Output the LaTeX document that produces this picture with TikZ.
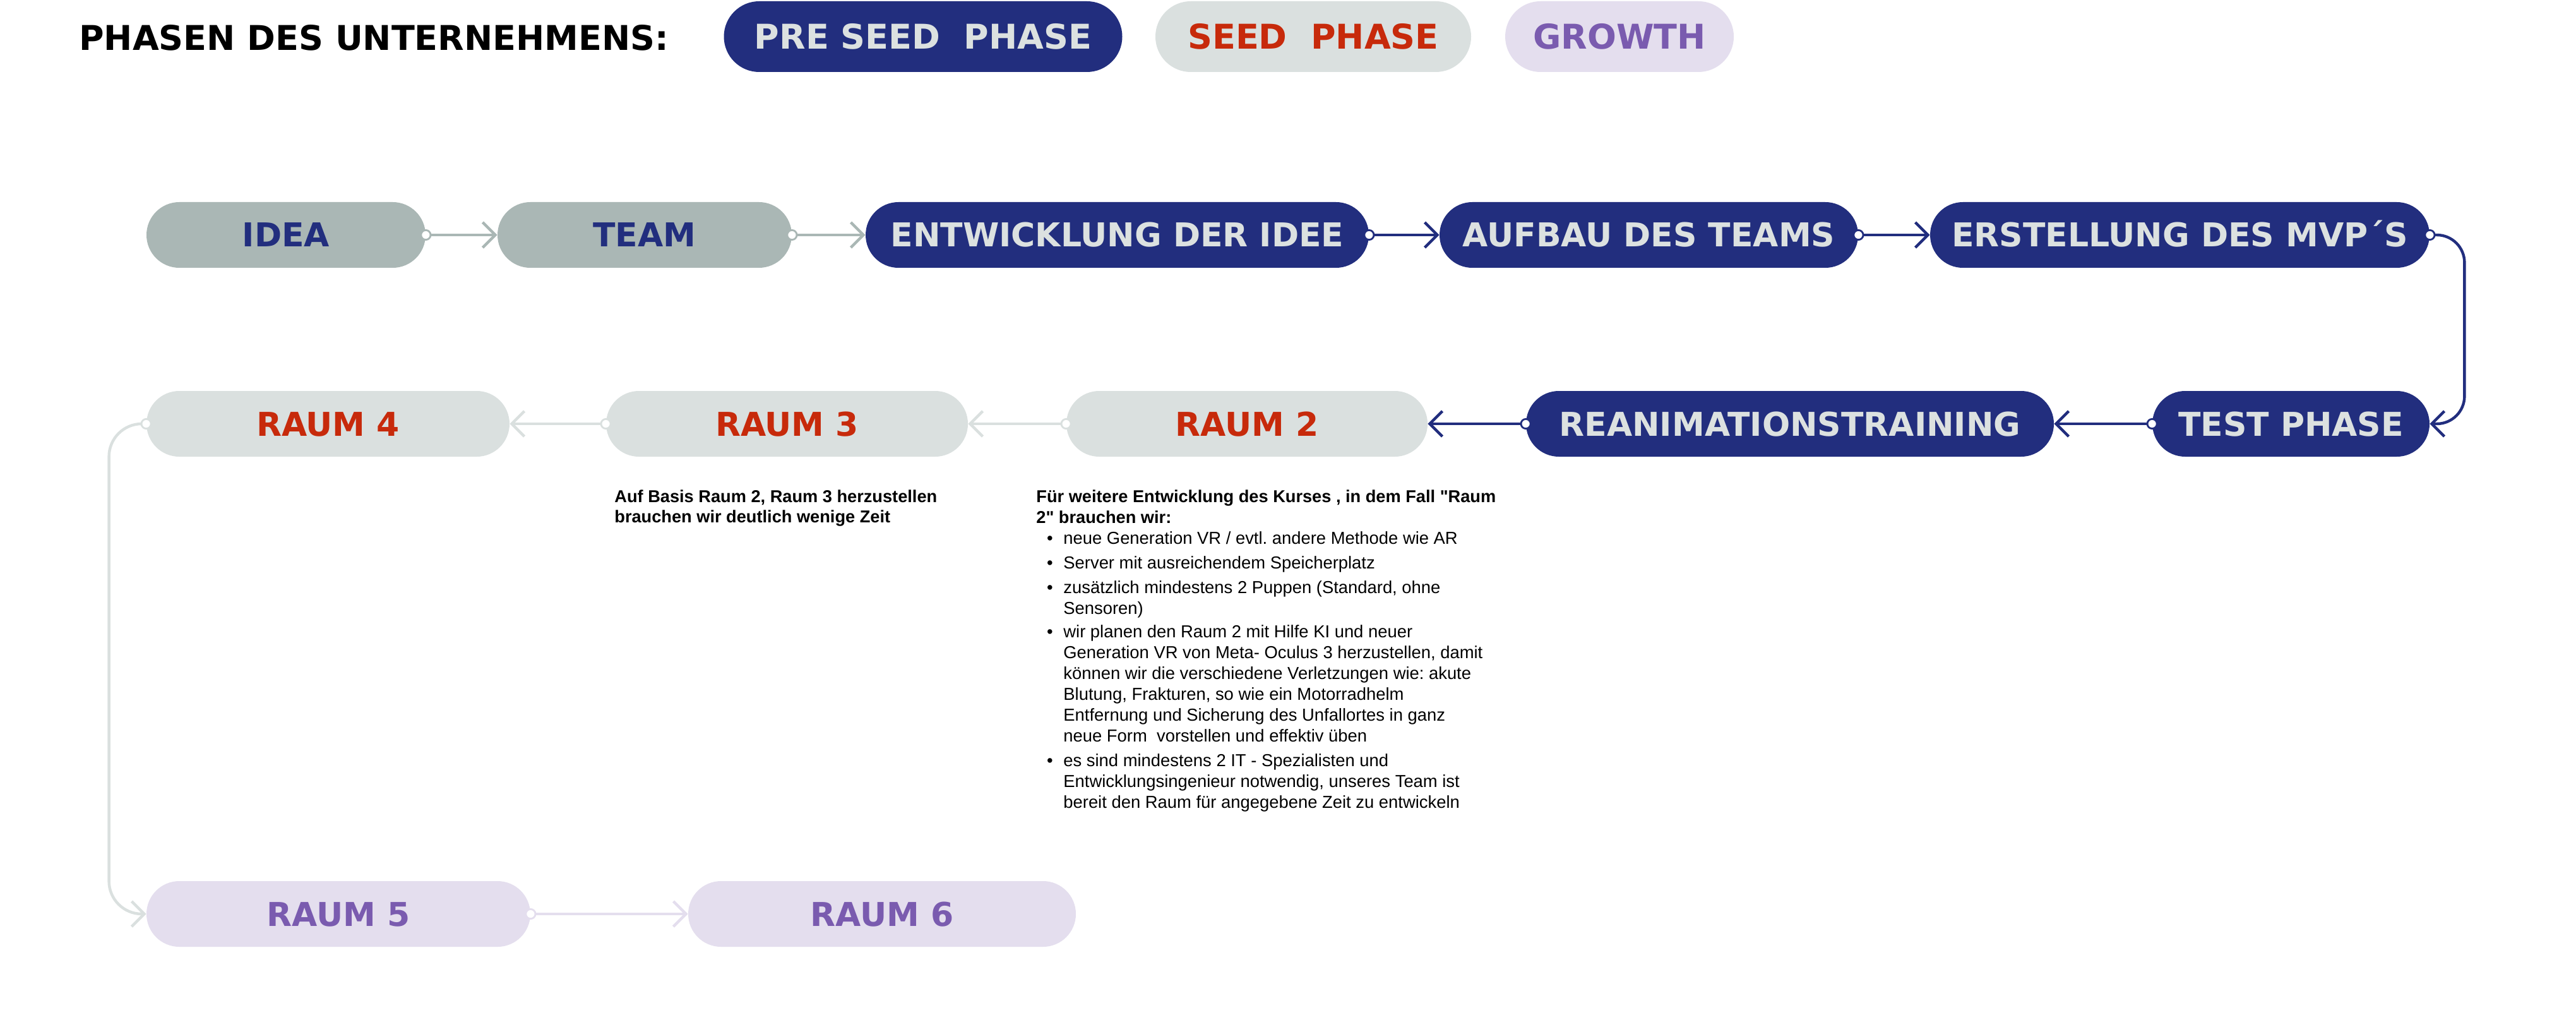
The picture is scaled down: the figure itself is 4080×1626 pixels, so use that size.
\documentclass[tikz,border=0pt]{standalone}
\usepackage{fontspec}
\setmainfont{Liberation Sans}[Ligatures=TeXOff]
\newfontfamily\dispfont{DejaVu Sans}
\usetikzlibrary{arrows.meta}
\frenchspacing
\definecolor{navy}{HTML}{222E7E}
\definecolor{lighttxt}{HTML}{DCE1E0}
\definecolor{greypill}{HTML}{AAB7B5}
\definecolor{lightpill}{HTML}{DAE0DF}
\definecolor{redtxt}{HTML}{C72A0B}
\definecolor{purplepill}{HTML}{E4DEEE}
\definecolor{purpletxt}{HTML}{7A5BAF}
\tikzset{
  pill/.style={rounded corners=26pt, minimum height=52pt, inner sep=0pt,
    text height=19pt, text depth=0pt,
    font=\dispfont\bfseries\fontsize{26}{30}\selectfont},
  hpill/.style={rounded corners=28pt, minimum height=56pt, inner sep=0pt,
    text height=19.7pt, text depth=0pt,
    font=\dispfont\bfseries\fontsize{27}{30}\selectfont},
  navybox/.style={fill=navy, text=lighttxt},
  greybox/.style={fill=greypill, text=navy},
  lightbox/.style={fill=lightpill, text=redtxt},
  purplebox/.style={fill=purplepill, text=purpletxt},
  conn/.style={line width=2.2pt,
    {Circle[length=9pt,fill=white,line width=1.4pt]}-{Straight Barb[length=10pt,width=20pt]},
    shorten <=-4.5pt},
  txt/.style={anchor=base west, inner sep=0pt, font=\frenchspacing\fontsize{13.7}{16}\selectfont},
  btxt/.style={txt, font=\frenchspacing\bfseries\fontsize{13.6}{16}\selectfont},
  bul/.style={anchor=base, inner sep=0pt, font=\fontsize{13.7}{16}\selectfont},
}
\begin{document}
\begin{tikzpicture}[x=0.5pt,y=-0.5pt]
\fill[white] (0,0) rectangle (4080,1626);
\path[use as bounding box] (0,0) rectangle (4080,1626);

% header
\node[anchor=west, inner sep=0pt, text height=19.7pt, text depth=0pt,
  font=\dispfont\bfseries\fontsize{27}{30}\selectfont] (head) at (125,60) {PHASEN DES UNTERNEHMENS:};
\node[hpill, navybox, minimum width=315.5pt] (hpre) at (1462,58) {PRE SEED\ \ PHASE};
\node[hpill, lightbox, minimum width=250pt] (hseed) at (2080,58) {SEED\ \ PHASE};
\node[hpill, purplebox, minimum width=181pt] (hgrowth) at (2565,58) {GROWTH};

% row 1
\node[pill, greybox, minimum width=221pt] (idea) at (453,372) {IDEA};
\node[pill, greybox, minimum width=233pt] (team) at (1021,372) {TEAM};
\node[pill, navybox, minimum width=398.5pt] (entw) at (1769.5,372) {ENTWICKLUNG DER IDEE};
\node[pill, navybox, minimum width=331.5pt] (aufbau) at (2611.5,372) {AUFBAU DES TEAMS};
\node[pill, navybox, minimum width=395.5pt] (erst) at (3452.5,372) {ERSTELLUNG DES MVP´S};

% row 2
\node[pill, lightbox, minimum width=287.5pt] (r4) at (519.5,671) {RAUM 4};
\node[pill, lightbox, minimum width=286.5pt] (r3) at (1246.5,671) {RAUM 3};
\node[pill, lightbox, minimum width=286pt] (r2) at (1975,671) {RAUM 2};
\node[pill, navybox, minimum width=418pt] (rean) at (2835,671) {REANIMATIONSTRAINING};
\node[pill, navybox, minimum width=219.5pt] (test) at (3628.5,671) {TEST PHASE};

% row 3
\node[pill, purplebox, minimum width=304pt] (r5) at (536,1447) {RAUM 5};
\node[pill, purplebox, minimum width=307pt] (r6) at (1397,1447) {RAUM 6};

% connectors
\draw[conn, draw=greypill] (idea.east) -- (team.west);
\draw[conn, draw=greypill] (team.east) -- (entw.west);
\draw[conn, draw=navy] (entw.east) -- (aufbau.west);
\draw[conn, draw=navy] (aufbau.east) -- (erst.west);
\draw[conn, draw=navy, rounded corners=22pt] (erst.east) -- ++(55,0) |- (test.east);
\draw[conn, draw=navy] (test.west) -- (rean.east);
\draw[conn, draw=navy] (rean.west) -- (r2.east);
\draw[conn, draw=lightpill] (r2.west) -- (r3.east);
\draw[conn, draw=lightpill] (r3.west) -- (r4.east);
\draw[conn, draw=lightpill, rounded corners=26pt] (r4.west) -- ++(-59,0) |- (r5.west);
\draw[conn, draw=purplepill] (r5.east) -- (r6.west);

% text under RAUM 3
\node[btxt] (a1) at (973,795) {Auf Basis Raum 2, Raum 3 herzustellen};
\node[btxt] (a2) at (973,827) {brauchen wir deutlich wenige Zeit};

% text under RAUM 2
\node[btxt] (f1) at (1641,795) {Für weitere Entwicklung des Kurses , in dem Fall "Raum};
\node[btxt] (f2) at (1641,828) {2" brauchen wir:};
\node[bul] (b1) at (1663,861) {•};
\node[txt] (l1) at (1684,861) {neue Generation VR / evtl. andere Methode wie AR};
\node[bul] (b2) at (1663,900) {•};
\node[txt] (l2) at (1684,900) {Server mit ausreichendem Speicherplatz};
\node[bul] (b3) at (1663,939) {•};
\node[txt] (l3) at (1684,939) {zusätzlich mindestens 2 Puppen (Standard, ohne};
\node[txt] (l4) at (1684,972) {Sensoren)};
\node[bul] (b4) at (1663,1009) {•};
\node[txt] (l5) at (1684,1009) {wir planen den Raum 2 mit Hilfe KI und neuer};
\node[txt] (l6) at (1684,1042) {Generation VR von Meta- Oculus 3 herzustellen, damit};
\node[txt] (l7) at (1684,1075) {können wir die verschiedene Verletzungen wie: akute};
\node[txt] (l8) at (1684,1108) {Blutung, Frakturen, so wie ein Motorradhelm};
\node[txt] (l9) at (1684,1141) {Entfernung und Sicherung des Unfallortes in ganz};
\node[txt] (l10) at (1684,1174) {neue Form\ \ vorstellen und effektiv üben};
\node[bul] (b5) at (1663,1213) {•};
\node[txt] (l11) at (1684,1213) {es sind mindestens 2 IT - Spezialisten und};
\node[txt] (l12) at (1684,1246) {Entwicklungsingenieur notwendig, unseres Team ist};
\node[txt] (l13) at (1684,1279) {bereit den Raum für angegebene Zeit zu entwickeln};
\end{tikzpicture}
\end{document}
